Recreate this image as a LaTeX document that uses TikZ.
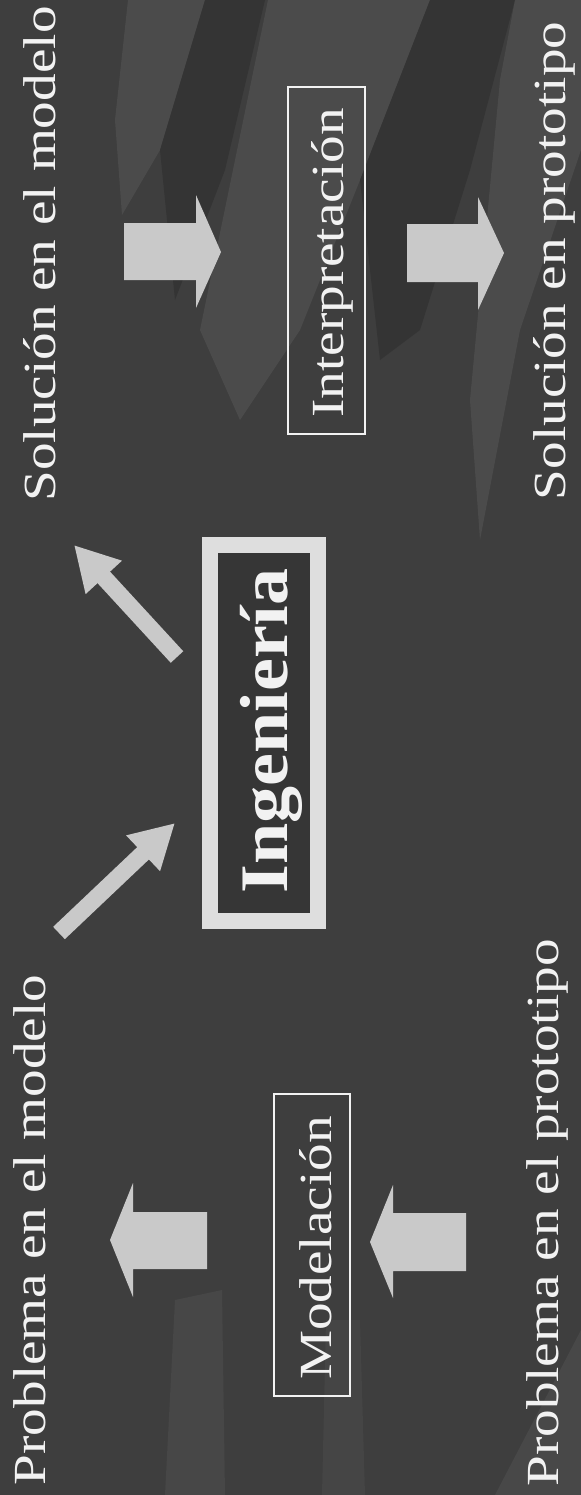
\documentclass[tikz,border=0pt]{standalone}
\usepackage{fontspec}
\setmainfont{Liberation Serif}
\usetikzlibrary{arrows.meta}
\definecolor{bg}{HTML}{3E3E3E}
\definecolor{arrowgray}{HTML}{C9C9C9}
\definecolor{txt}{HTML}{F2F2F2}
\definecolor{framegray}{HTML}{DEDEDE}
\definecolor{innerdark}{HTML}{363636}
\definecolor{streaklight}{HTML}{5C5C5C}
\definecolor{streakdark}{HTML}{2C2C2C}
\begin{document}
\begin{tikzpicture}[x=0.5pt,y=-0.5pt,
  lbl/.style={rotate=90,anchor=base,text=txt,inner sep=0pt,font=\fontsize{23}{28}\selectfont},
  boxframe/.style={draw=txt,line width=0.75pt,inner sep=0pt},
  blockarrow/.style={fill=arrowgray},
  diagarrow/.style={draw=arrowgray,line width=8.5pt,-{Triangle[length=22pt,width=23pt]}},
  lightstreak/.style={fill=streaklight,opacity=0.45},
  darkstreak/.style={fill=streakdark,opacity=0.55}]
\useasboundingbox (0,0) rectangle (581,1495);
% background
\fill[bg] (0,0) rectangle (581,1495);
\fill[lightstreak] (128,0) -- (205,0) -- (160,150) -- (122,215) -- (115,120) -- cycle;
\fill[darkstreak] (205,0) -- (265,0) -- (225,170) -- (175,300) -- (160,150) -- cycle;
\fill[lightstreak] (268,0) -- (430,0) -- (360,180) -- (300,330) -- (240,420) -- (200,330) -- cycle;
\fill[darkstreak] (430,0) -- (515,0) -- (470,170) -- (420,330) -- (380,360) -- (360,180) -- cycle;
\fill[lightstreak] (515,0) -- (581,0) -- (581,150) -- (520,330) -- (480,540) -- (470,400) -- (500,80) -- cycle;
\fill[lightstreak,opacity=0.3] (175,1300) -- (222,1290) -- (225,1495) -- (165,1495) -- cycle;
\fill[lightstreak,opacity=0.25] (326,1320) -- (360,1320) -- (365,1495) -- (322,1495) -- cycle;
\fill[lightstreak,opacity=0.35] (581,1330) -- (581,1495) -- (495,1495) -- cycle;

% outer labels
\node[lbl] (sm) at (55,254) {\scalebox{1.2}[1]{Solución en el modelo}};
\node[lbl] (sp) at (565,261) {\scalebox{1.2}[1]{Solución en prototipo}};
\node[lbl] (pm) at (46,1230) {\scalebox{1.2}[1]{Problema en el modelo}};
\node[lbl] (pp) at (558,1213) {\scalebox{1.2}[1]{Problema en el prototipo}};

% boxes
\node[boxframe,minimum width=38.5pt,minimum height=173.5pt] (interpbox) at (326.5,260.5) {};
\node[lbl] (interp) at (343,263) {\scalebox{1.2}[1]{Interpretación}};
\node[boxframe,minimum width=38pt,minimum height=151pt] (modelbox) at (312,1245) {};
\node[lbl] (model) at (331,1248) {\scalebox{1.2}[1]{Modelación}};

% Ingenieria
\node[draw=framegray,fill=innerdark,line width=8pt,minimum width=53.75pt,minimum height=188pt,inner sep=0pt] (ingbox) at (263.75,733) {};
\node[lbl,font=\fontsize{34}{40}\selectfont\bfseries] (ing) at (287,731) {\scalebox{1.09}[1]{Ingeniería}};

% block arrows
\fill[blockarrow] (124,223) -- (196,223) -- (196,195) -- (221,252) -- (196,308) -- (196,280) -- (124,280) -- cycle;
\fill[blockarrow] (407,224) -- (478,224) -- (478,197) -- (504,253) -- (478,310) -- (478,282) -- (407,282) -- cycle;
\fill[blockarrow] (207,1212) -- (133,1212) -- (133,1183) -- (110,1240) -- (133,1297) -- (133,1269) -- (207,1269) -- cycle;
\fill[blockarrow] (466,1213) -- (393,1213) -- (393,1185) -- (370,1242) -- (393,1298) -- (393,1271) -- (466,1271) -- cycle;

% diagonal arrows
\coordinate (d1tail) at (177,657);
\coordinate (d1tip) at (74,545);
\coordinate (d2tail) at (59,933);
\coordinate (d2tip) at (175,823);
\draw[diagarrow] (d1tail) -- (d1tip);
\draw[diagarrow] (d2tail) -- (d2tip);
\end{tikzpicture}
\end{document}
